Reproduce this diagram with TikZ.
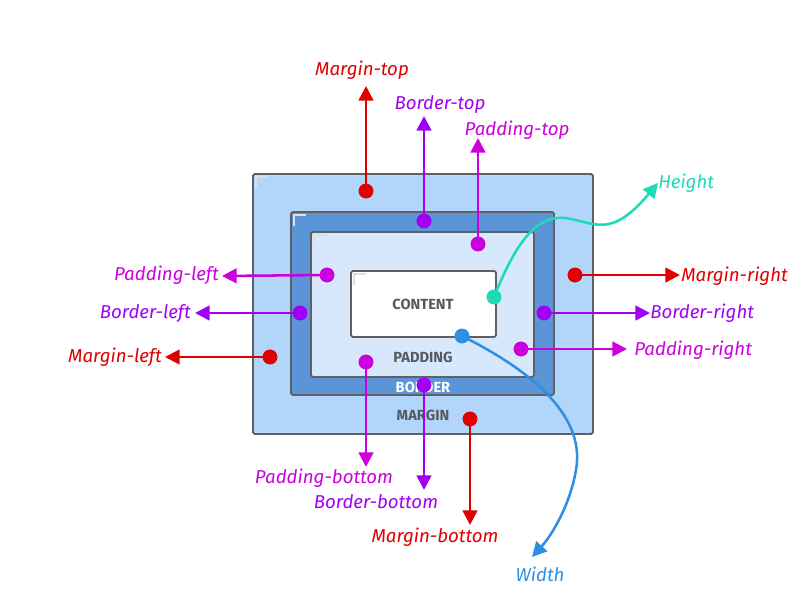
\documentclass[tikz,border=0pt]{standalone}
\usepackage{fontspec}
\setmainfont{Fira Sans}
\usetikzlibrary{arrows.meta}
\definecolor{cred}{HTML}{E00000}
\definecolor{cpur}{HTML}{A000F5}
\definecolor{cmag}{HTML}{CC00DD}
\definecolor{cteal}{HTML}{1CDBB6}
\definecolor{cblue}{HTML}{2F8FE3}
\definecolor{cmargin}{HTML}{B2D5FA}
\definecolor{cborder}{HTML}{5C94D8}
\definecolor{cpad}{HTML}{D7E8FC}
\definecolor{cstroke}{HTML}{5E6066}
\definecolor{ctext}{HTML}{555A60}
\begin{document}
\begin{tikzpicture}[x=0.75pt,y=-0.75pt,
  boxs/.style={draw=cstroke,line width=1.3pt,rounded corners=1.2pt},
  arr/.style={line width=1.9pt,-{Triangle[length=11pt,width=11pt]}},
  dotc/.style={circle,fill=#1,inner sep=0pt,minimum size=11pt},
  lbl/.style={text=#1,font=\itshape\fontsize{14}{16}\selectfont,inner sep=0pt},
  boxlbl/.style={font=\bfseries\fontsize{11}{12}\selectfont,text=ctext,inner sep=0pt},
  corner/.style={draw=white!75!gray,line width=0.8pt}]
\useasboundingbox (0,0) rectangle (804,613);

% boxes
\draw[boxs,fill=cmargin] (253,174) rectangle (593,434);
\draw[boxs,fill=cborder] (291,212) rectangle (554,395);
\draw[boxs,fill=cpad] (311,232) rectangle (534,377);
\draw[boxs,fill=white] (351,271) rectangle (496,337);
\draw[corner] (256,188) -- (256,177) -- (268,177);
\draw[corner] (294,226) -- (294,215) -- (306,215);
\draw[corner] (314,246) -- (314,235) -- (326,235);
\draw[corner] (354,285) -- (354,274) -- (366,274);

\node[boxlbl] (content) at (423,304) {CONTENT};
\node[boxlbl] (padding) at (423,357) {PADDING};
\node[boxlbl,text=white] (border) at (423,387) {BORDER};
\node[boxlbl] (margin) at (423,415) {MARGIN};

% tip coordinates
\coordinate (tmt) at (366,86);
\coordinate (tbt) at (424,116);
\coordinate (tpt) at (478,138);
\coordinate (tpl) at (222,276);
\coordinate (tbl) at (195,313);
\coordinate (tml) at (165,357);
\coordinate (tmr) at (680,275);
\coordinate (tbr) at (650,313);
\coordinate (tpr) at (627,349);
\coordinate (tpb) at (366,467);
\coordinate (tbb) at (424,490);
\coordinate (tmb) at (470,525);
\coordinate (th) at (658,183);
\coordinate (tw) at (532,557);

% dots
\node[dotc=cred] (dmt) at (366,191) {};
\node[dotc=cpur] (dbt) at (424,221) {};
\node[dotc=cmag] (dpt) at (478,244) {};
\node[dotc=cmag] (dpl) at (327,275) {};
\node[dotc=cpur] (dbl) at (300,313) {};
\node[dotc=cred] (dml) at (270,357) {};
\node[dotc=cred] (dmr) at (575,275) {};
\node[dotc=cpur] (dbr) at (544,313) {};
\node[dotc=cmag] (dpr) at (521,349) {};
\node[dotc=cmag] (dpb) at (366,362) {};
\node[dotc=cpur] (dbb) at (424,385) {};
\node[dotc=cred] (dmb) at (470,419) {};
\node[dotc=cteal] (dh) at (494,297) {};
\node[dotc=cblue] (dw) at (462,336) {};

% connectors
\draw[arr,cred] (dmt.center) -- (tmt);
\draw[arr,cpur] (dbt.center) -- (tbt);
\draw[arr,cmag] (dpt.center) -- (tpt);
\draw[arr,cmag] (dpl.center) -- (tpl);
\draw[arr,cpur] (dbl.center) -- (tbl);
\draw[arr,cred] (dml.center) -- (tml);
\draw[arr,cred] (dmr.center) -- (tmr);
\draw[arr,cpur] (dbr.center) -- (tbr);
\draw[arr,cmag] (dpr.center) -- (tpr);
\draw[arr,cmag] (dpb.center) -- (tpb);
\draw[arr,cpur] (dbb.center) -- (tbb);
\draw[arr,cred] (dmb.center) -- (tmb);
\draw[arr,cteal] (dh.center) .. controls (515,245) and (535,215) .. (565,218)
   .. controls (595,222) and (610,240) .. (th);
\draw[arr,cblue] (dw.center) .. controls (540,375) and (585,420) .. (576,470)
   .. controls (570,505) and (552,535) .. (tw);
% redraw dots on top
\foreach \n/\c in {dmt/cred,dbt/cpur,dpt/cmag,dpl/cmag,dbl/cpur,dml/cred,dmr/cred,dbr/cpur,dpr/cmag,dpb/cmag,dbb/cpur,dmb/cred,dh/cteal,dw/cblue}
  \fill[\c] (\n.center) circle (5.5pt);

% labels
\node[lbl=cred] (lmt) at (362,70) {Margin-top};
\node[lbl=cpur] (lbt) at (440,105) {Border-top};
\node[lbl=cmag] (lpt) at (517,130) {Padding-top};
\node[lbl=cmag,anchor=east] (lpl) at (219,275) {Padding-left};
\node[lbl=cpur,anchor=east] (lbl) at (191,313) {Border-left};
\node[lbl=cred,anchor=east] (lml) at (162,357) {Margin-left};
\node[lbl=cred,anchor=west] (lmr) at (681,276) {Margin-right};
\node[lbl=cpur,anchor=west] (lbr) at (650,313) {Border-right};
\node[lbl=cmag,anchor=west] (lpr) at (634,350) {Padding-right};
\node[lbl=cteal,anchor=west] (lh) at (658,183) {Height};
\node[lbl=cmag] (lpb) at (324,478) {Padding-bottom};
\node[lbl=cpur] (lbb) at (376,502) {Border-bottom};
\node[lbl=cred] (lmb) at (435,537) {Margin-bottom};
\node[lbl=cblue] (lw) at (540,574) {Width};
\end{tikzpicture}
\end{document}
